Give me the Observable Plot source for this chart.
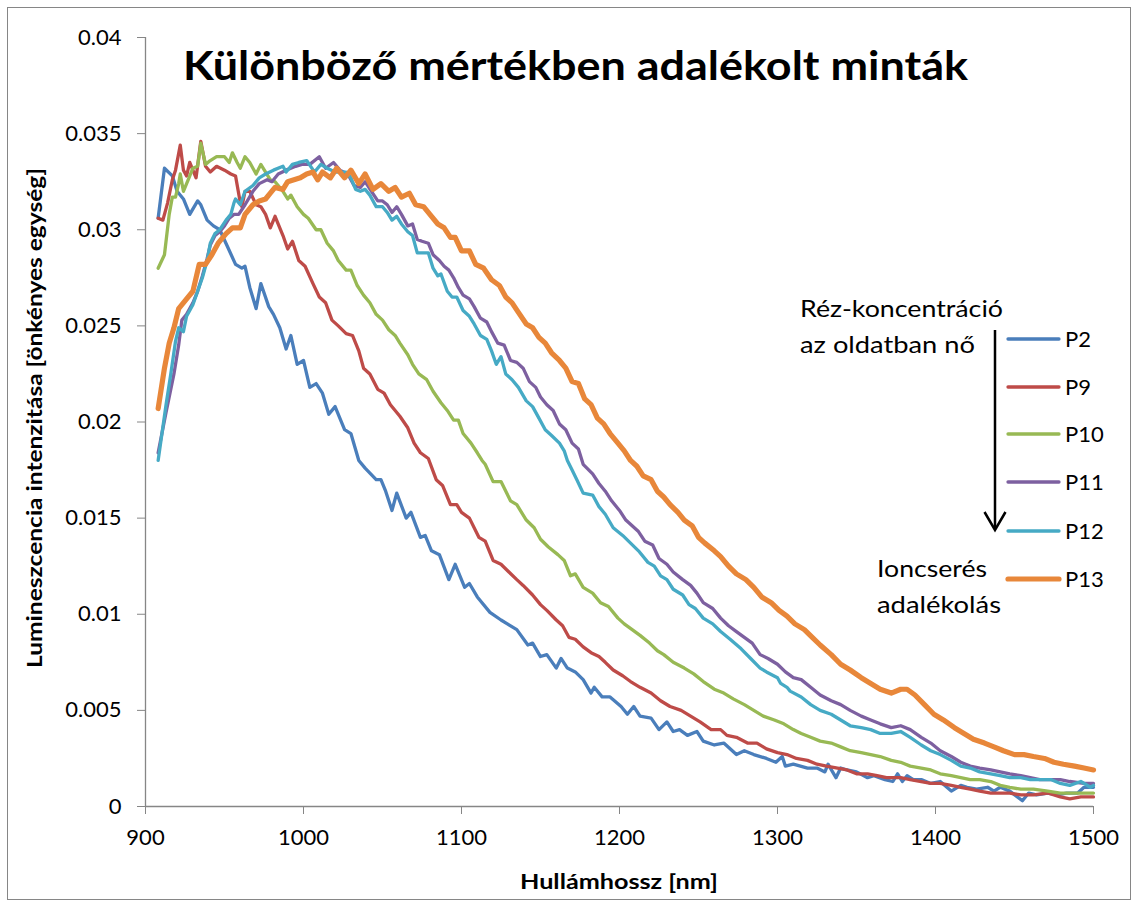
<!DOCTYPE html>
<html><head><meta charset="utf-8">
<script src="https://cdn.jsdelivr.net/npm/d3@7"></script>
<script src="https://cdn.jsdelivr.net/npm/@observablehq/plot@0.6"></script>
<style>
body{margin:0;background:#fff;}
#wrap{position:relative;width:1138px;height:906px;font-family:Lato,"Open Sans",sans-serif;background:#fff;}
#wrap > svg{position:absolute;left:0;top:0;}
</style></head><body><div id="wrap"></div>
<script>
const xTicks = [900, 1000, 1100, 1200, 1300, 1400, 1500];
const yTicks = [0, 0.005, 0.01, 0.015, 0.02, 0.025, 0.03, 0.035, 0.04];
const yTickLabels = ["0", "0.005", "0.01", "0.015", "0.02", "0.025", "0.03", "0.035", "0.04"];
const seriesNames = ["P2", "P9", "P10", "P11", "P12", "P13"];
const seriesColors = ["#4A7EBB", "#BE4B48", "#98B954", "#7D60A0", "#46AAC5", "#E8873A"];
const titleText = "Különböző mértékben adalékolt minták";
const xTitle = "Hullámhossz [nm]";
const yTitle = "Lumineszcencia intenzitása [önkényes egység]";
const noteTop = ["Réz-koncentráció", "az oldatban nő"];
const noteBottom = ["Ioncserés", "adalékolás"];

const p2 = [[908,0.0306],[912,0.0332],[917,0.0328],[920,0.0320],[924,0.0316],[928,0.0308],[933,0.0315],[935,0.0313],[939,0.0305],[943,0.0302],[947,0.0300],[952,0.0291],[957,0.0282],[961,0.0280],[963,0.0281],[966,0.0270],[970,0.0259],[973,0.0272],[978,0.0260],[981,0.0256],[985,0.0249],[989,0.0238],[992,0.0245],[996,0.0230],[1000,0.0232],[1004,0.0218],[1008,0.0220],[1012,0.0215],[1016,0.0204],[1020,0.0208],[1026,0.0196],[1030,0.0194],[1035,0.0180],[1039,0.0176],[1046,0.0170],[1049,0.0170],[1052,0.0164],[1056,0.0154],[1059,0.0163],[1065,0.0150],[1068,0.0153],[1074,0.0140],[1077,0.0141],[1081,0.0133],[1086,0.0131],[1092,0.0118],[1096,0.0126],[1102,0.0114],[1105,0.0116],[1110,0.0109],[1118,0.0101],[1125,0.0097],[1129,0.0095],[1135,0.0092],[1142,0.0084],[1145,0.0085],[1150,0.0078],[1154,0.0079],[1160,0.0072],[1163,0.0077],[1167,0.0072],[1172,0.0070],[1177,0.0066],[1182,0.0059],[1184,0.0062],[1189,0.0057],[1194,0.0057],[1201,0.0052],[1205,0.0048],[1209,0.0052],[1213,0.0047],[1220,0.0046],[1225,0.0040],[1230,0.0044],[1234,0.0039],[1238,0.0040],[1243,0.0037],[1249,0.0039],[1253,0.0034],[1260,0.0032],[1266,0.0033],[1274,0.0027],[1279,0.0029],[1285,0.0027],[1293,0.0025],[1299,0.0023],[1303,0.0026],[1305,0.0021],[1310,0.0022],[1319,0.0020],[1325,0.0020],[1330,0.0018],[1332,0.0022],[1337,0.0015],[1340,0.0020],[1344,0.0019],[1350,0.0018],[1357,0.0015],[1361,0.0016],[1368,0.0014],[1373,0.0013],[1376,0.0017],[1379,0.0013],[1382,0.0016],[1386,0.0014],[1391,0.0014],[1397,0.0012],[1403,0.0013],[1410,0.0008],[1416,0.0011],[1420,0.0010],[1426,0.0009],[1433,0.0010],[1437,0.0008],[1441,0.0010],[1447,0.0008],[1455,0.0003],[1459,0.0007],[1464,0.0006],[1471,0.0007],[1477,0.0006],[1483,0.0007],[1490,0.0007],[1494,0.0010],[1500,0.0010]];

const p9 = [[908,0.0306],[911,0.0305],[914,0.0314],[917,0.0326],[919,0.0331],[922,0.0344],[924,0.0331],[926,0.0328],[928,0.0335],[932,0.0327],[935,0.0346],[938,0.0333],[941,0.0330],[945,0.0333],[950,0.0331],[954,0.0329],[957,0.0328],[960,0.0314],[961,0.0312],[963,0.0320],[966,0.0320],[970,0.0313],[973,0.0312],[976,0.0308],[979,0.0301],[982,0.0307],[987,0.0297],[990,0.0290],[993,0.0294],[997,0.0284],[1001,0.0281],[1006,0.0272],[1010,0.0265],[1014,0.0262],[1018,0.0253],[1022,0.0250],[1027,0.0246],[1031,0.0245],[1035,0.0237],[1038,0.0228],[1042,0.0225],[1047,0.0217],[1051,0.0215],[1055,0.0209],[1061,0.0203],[1066,0.0197],[1070,0.0189],[1074,0.0184],[1079,0.0181],[1084,0.0170],[1088,0.0167],[1093,0.0157],[1097,0.0157],[1100,0.0153],[1105,0.0150],[1111,0.0140],[1115,0.0138],[1120,0.0128],[1125,0.0126],[1130,0.0122],[1135,0.0118],[1139,0.0115],[1145,0.0110],[1150,0.0105],[1154,0.0102],[1160,0.0097],[1164,0.0094],[1168,0.0088],[1172,0.0087],[1177,0.0083],[1182,0.0080],[1187,0.0078],[1191,0.0075],[1196,0.0071],[1202,0.0068],[1207,0.0065],[1213,0.0062],[1220,0.0059],[1226,0.0055],[1232,0.0052],[1239,0.0050],[1245,0.0047],[1251,0.0044],[1258,0.0040],[1264,0.0040],[1268,0.0037],[1274,0.0036],[1281,0.0033],[1287,0.0033],[1293,0.0030],[1300,0.0028],[1306,0.0027],[1312,0.0025],[1319,0.0024],[1325,0.0022],[1331,0.0021],[1338,0.0020],[1344,0.0019],[1350,0.0017],[1357,0.0017],[1363,0.0016],[1369,0.0015],[1378,0.0015],[1384,0.0014],[1391,0.0013],[1397,0.0012],[1403,0.0012],[1410,0.0011],[1416,0.0010],[1422,0.0009],[1428,0.0008],[1435,0.0007],[1441,0.0007],[1447,0.0007],[1454,0.0006],[1462,0.0006],[1471,0.0007],[1479,0.0005],[1485,0.0004],[1492,0.0005],[1500,0.0005]];

const p10 = [[908,0.0280],[912,0.0287],[915,0.0308],[917,0.0317],[919,0.0317],[921,0.0324],[922,0.0329],[924,0.0320],[927,0.0326],[930,0.0332],[933,0.0333],[935,0.0345],[938,0.0334],[941,0.0336],[945,0.0338],[950,0.0338],[953,0.0335],[955,0.0340],[958,0.0335],[960,0.0332],[963,0.0338],[966,0.0335],[970,0.0329],[973,0.0334],[976,0.0330],[979,0.0326],[982,0.0325],[987,0.0320],[990,0.0316],[992,0.0318],[996,0.0312],[1000,0.0308],[1003,0.0306],[1008,0.0300],[1011,0.0300],[1015,0.0293],[1019,0.0289],[1022,0.0284],[1027,0.0279],[1030,0.0279],[1034,0.0271],[1038,0.0266],[1042,0.0262],[1046,0.0256],[1050,0.0253],[1054,0.0248],[1058,0.0245],[1061,0.0241],[1066,0.0235],[1069,0.0230],[1073,0.0225],[1078,0.0222],[1082,0.0216],[1087,0.0210],[1091,0.0206],[1095,0.0201],[1098,0.0201],[1101,0.0194],[1106,0.0189],[1110,0.0184],[1113,0.0180],[1115,0.0178],[1120,0.0169],[1125,0.0169],[1131,0.0159],[1135,0.0157],[1141,0.0149],[1146,0.0145],[1150,0.0139],[1155,0.0135],[1161,0.0131],[1165,0.0128],[1169,0.0120],[1172,0.0121],[1177,0.0114],[1183,0.0111],[1188,0.0106],[1193,0.0104],[1199,0.0098],[1203,0.0095],[1208,0.0092],[1213,0.0089],[1219,0.0085],[1224,0.0081],[1228,0.0079],[1234,0.0075],[1241,0.0072],[1247,0.0069],[1253,0.0065],[1260,0.0061],[1266,0.0059],[1272,0.0056],[1279,0.0053],[1285,0.0050],[1291,0.0047],[1298,0.0045],[1304,0.0043],[1310,0.0040],[1315,0.0038],[1321,0.0036],[1327,0.0034],[1334,0.0033],[1340,0.0031],[1346,0.0029],[1353,0.0028],[1359,0.0027],[1365,0.0026],[1372,0.0024],[1378,0.0023],[1384,0.0021],[1391,0.0020],[1397,0.0019],[1403,0.0017],[1410,0.0016],[1416,0.0015],[1422,0.0014],[1428,0.0014],[1435,0.0013],[1441,0.0011],[1447,0.0010],[1454,0.0009],[1462,0.0009],[1471,0.0008],[1479,0.0007],[1488,0.0007],[1496,0.0007],[1500,0.0007]];

const p11 = [[908,0.0184],[913,0.0205],[918,0.0225],[921,0.0240],[923,0.0253],[926,0.0256],[930,0.0262],[933,0.0268],[936,0.0276],[939,0.0285],[941,0.0292],[944,0.0297],[947,0.0299],[950,0.0302],[953,0.0306],[956,0.0308],[959,0.0308],[963,0.0313],[968,0.0320],[972,0.0324],[977,0.0326],[980,0.0325],[984,0.0329],[989,0.0331],[995,0.0333],[999,0.0334],[1004,0.0334],[1010,0.0338],[1014,0.0332],[1019,0.0335],[1023,0.0331],[1028,0.0329],[1032,0.0323],[1036,0.0322],[1039,0.0325],[1043,0.0320],[1047,0.0315],[1050,0.0315],[1053,0.0313],[1056,0.0309],[1059,0.0312],[1062,0.0308],[1066,0.0302],[1069,0.0303],[1072,0.0295],[1075,0.0294],[1079,0.0293],[1082,0.0287],[1086,0.0284],[1089,0.0281],[1092,0.0279],[1095,0.0275],[1098,0.0270],[1101,0.0266],[1105,0.0264],[1108,0.0260],[1112,0.0254],[1116,0.0252],[1119,0.0247],[1123,0.0241],[1127,0.0240],[1131,0.0232],[1135,0.0231],[1139,0.0228],[1143,0.0221],[1147,0.0218],[1150,0.0213],[1154,0.0209],[1158,0.0206],[1162,0.0199],[1166,0.0196],[1170,0.0189],[1174,0.0186],[1177,0.0178],[1183,0.0173],[1187,0.0168],[1191,0.0164],[1195,0.0159],[1200,0.0154],[1204,0.0149],[1208,0.0146],[1212,0.0143],[1216,0.0138],[1221,0.0136],[1225,0.0129],[1230,0.0126],[1234,0.0122],[1240,0.0118],[1245,0.0115],[1249,0.0111],[1253,0.0106],[1259,0.0103],[1264,0.0098],[1269,0.0094],[1274,0.0091],[1279,0.0088],[1284,0.0085],[1289,0.0079],[1294,0.0077],[1300,0.0074],[1305,0.0070],[1310,0.0067],[1315,0.0066],[1321,0.0062],[1327,0.0058],[1334,0.0055],[1340,0.0053],[1346,0.0050],[1353,0.0047],[1359,0.0045],[1365,0.0043],[1372,0.0041],[1378,0.0042],[1384,0.0040],[1391,0.0036],[1397,0.0033],[1403,0.0029],[1410,0.0026],[1416,0.0023],[1422,0.0021],[1428,0.0020],[1435,0.0019],[1441,0.0018],[1447,0.0017],[1454,0.0016],[1460,0.0015],[1466,0.0014],[1473,0.0014],[1479,0.0014],[1485,0.0013],[1494,0.0012],[1500,0.0012]];

const p12 = [[908,0.0180],[913,0.0209],[916,0.0225],[919,0.0242],[921,0.0249],[924,0.0247],[926,0.0255],[930,0.0261],[933,0.0268],[936,0.0275],[939,0.0284],[941,0.0293],[944,0.0298],[947,0.0300],[951,0.0305],[954,0.0308],[956,0.0314],[957,0.0316],[960,0.0313],[963,0.0320],[968,0.0323],[972,0.0327],[976,0.0329],[981,0.0331],[987,0.0333],[989,0.0330],[993,0.0334],[997,0.0335],[1002,0.0336],[1007,0.0330],[1011,0.0334],[1015,0.0332],[1020,0.0330],[1027,0.0330],[1030,0.0327],[1033,0.0321],[1036,0.0320],[1039,0.0321],[1042,0.0318],[1046,0.0312],[1050,0.0312],[1053,0.0309],[1056,0.0305],[1059,0.0307],[1062,0.0303],[1066,0.0299],[1069,0.0297],[1072,0.0288],[1076,0.0288],[1079,0.0288],[1082,0.0280],[1085,0.0276],[1087,0.0277],[1091,0.0268],[1094,0.0265],[1097,0.0265],[1101,0.0258],[1105,0.0255],[1108,0.0251],[1112,0.0245],[1116,0.0243],[1119,0.0237],[1122,0.0230],[1125,0.0234],[1128,0.0225],[1132,0.0222],[1136,0.0218],[1141,0.0211],[1145,0.0208],[1149,0.0202],[1153,0.0196],[1157,0.0193],[1162,0.0189],[1165,0.0185],[1167,0.0180],[1170,0.0175],[1173,0.0170],[1177,0.0163],[1183,0.0162],[1187,0.0156],[1191,0.0152],[1196,0.0145],[1202,0.0141],[1207,0.0137],[1212,0.0133],[1218,0.0127],[1222,0.0125],[1226,0.0120],[1230,0.0118],[1234,0.0113],[1240,0.0110],[1244,0.0105],[1248,0.0103],[1253,0.0098],[1259,0.0095],[1264,0.0091],[1270,0.0087],[1277,0.0082],[1283,0.0077],[1289,0.0072],[1293,0.0070],[1300,0.0067],[1302,0.0064],[1306,0.0062],[1308,0.0060],[1315,0.0057],[1321,0.0053],[1327,0.0050],[1334,0.0048],[1340,0.0045],[1346,0.0042],[1353,0.0041],[1359,0.0040],[1365,0.0038],[1372,0.0038],[1378,0.0039],[1384,0.0036],[1391,0.0032],[1397,0.0029],[1403,0.0027],[1410,0.0024],[1416,0.0021],[1422,0.0020],[1428,0.0018],[1435,0.0017],[1441,0.0016],[1447,0.0015],[1454,0.0015],[1460,0.0014],[1466,0.0014],[1473,0.0014],[1479,0.0012],[1485,0.0011],[1492,0.0013],[1498,0.0010],[1500,0.0011]];

const p13 = [[908,0.0207],[912,0.0228],[915,0.0241],[918,0.0249],[921,0.0259],[925,0.0263],[930,0.0268],[934,0.0282],[938,0.0282],[942,0.0287],[946,0.0293],[951,0.0298],[955,0.0301],[960,0.0301],[963,0.0308],[968,0.0313],[972,0.0315],[976,0.0316],[979,0.0319],[982,0.0322],[987,0.0321],[990,0.0325],[994,0.0326],[998,0.0327],[1002,0.0329],[1006,0.0330],[1009,0.0326],[1012,0.0330],[1017,0.0327],[1021,0.0332],[1026,0.0327],[1030,0.0331],[1035,0.0324],[1039,0.0329],[1044,0.0321],[1049,0.0324],[1054,0.0320],[1058,0.0322],[1062,0.0317],[1067,0.0319],[1071,0.0313],[1076,0.0312],[1080,0.0308],[1085,0.0303],[1089,0.0301],[1093,0.0296],[1096,0.0296],[1100,0.0289],[1105,0.0289],[1109,0.0282],[1114,0.0280],[1119,0.0274],[1124,0.0271],[1128,0.0265],[1132,0.0262],[1136,0.0257],[1141,0.0251],[1145,0.0249],[1149,0.0244],[1153,0.0241],[1157,0.0236],[1162,0.0232],[1166,0.0228],[1170,0.0221],[1174,0.0220],[1178,0.0212],[1182,0.0209],[1186,0.0202],[1190,0.0199],[1194,0.0194],[1199,0.0189],[1203,0.0185],[1207,0.0180],[1211,0.0177],[1215,0.0172],[1220,0.0170],[1224,0.0164],[1228,0.0161],[1232,0.0157],[1237,0.0153],[1241,0.0149],[1246,0.0146],[1250,0.0140],[1254,0.0137],[1260,0.0133],[1264,0.0130],[1269,0.0125],[1274,0.0121],[1280,0.0118],[1285,0.0114],[1290,0.0109],[1296,0.0106],[1301,0.0102],[1306,0.0099],[1311,0.0095],[1317,0.0092],[1322,0.0088],[1327,0.0084],[1334,0.0079],[1340,0.0074],[1346,0.0071],[1353,0.0067],[1359,0.0064],[1365,0.0061],[1372,0.0059],[1378,0.0061],[1382,0.0061],[1387,0.0058],[1393,0.0053],[1399,0.0048],[1405,0.0045],[1412,0.0041],[1418,0.0038],[1424,0.0035],[1431,0.0033],[1437,0.0031],[1443,0.0029],[1450,0.0027],[1456,0.0027],[1462,0.0026],[1469,0.0025],[1475,0.0023],[1481,0.0022],[1488,0.0021],[1494,0.0020],[1500,0.0019]];

const seriesData = [p2, p9, p10, p11, p12, p13];
const seriesWidths = [3.3, 3.3, 3.3, 3.3, 3.3, 5.2];

const rows = seriesNames.flatMap((name, i) => seriesData[i].map(([nm, v]) => ({series: name, nm, v})));

const W = 1138, H = 906;
const axisGray = "#868686";

const chart = Plot.plot({
  width: W, height: H,
  marginLeft: 145, marginRight: 45, marginTop: 37, marginBottom: 100,
  style: {fontFamily: "Lato, 'Open Sans', sans-serif", fontSize: "22px", color: "black", background: "transparent", overflow: "visible"},
  x: {domain: [900, 1500]},
  y: {domain: [0, 0.04]},
  marks: [
    Plot.axisX({ticks: xTicks, tickSize: 8, tickPadding: 15, stroke: axisGray, fill: "black", label: null, tickFormat: d => String(d)}),
    Plot.axisY({ticks: yTicks, tickSize: 8, tickPadding: 16, stroke: axisGray, fill: "black", label: null, tickFormat: d => yTickLabels[yTicks.indexOf(d)]}),
    Plot.ruleX([900], {stroke: axisGray, strokeWidth: 1.3}),
    Plot.ruleY([0], {stroke: axisGray, strokeWidth: 1.3}),
    ...seriesNames.map((name, i) => Plot.line(rows.filter(r => r.series === name), {
      x: "nm", y: "v", stroke: seriesColors[i], strokeWidth: seriesWidths[i], strokeLinejoin: "round", strokeLinecap: "round"
    }))
  ]
});
document.getElementById("wrap").appendChild(chart);

// overlay: frame, title, axis titles, legend, annotations
const ns = "http://www.w3.org/2000/svg";
const ov = d3.select("#wrap").append("svg").attr("width", W).attr("height", H)
  .attr("xmlns", ns).style("font-family", "Lato, 'Open Sans', sans-serif");

ov.append("rect").attr("x", 7.5).attr("y", 7.5).attr("width", 1123).attr("height", 892)
  .attr("fill", "none").attr("stroke", axisGray).attr("stroke-width", 1);

ov.append("text").attr("x", 183).attr("y", 80).attr("font-size", 40).attr("font-weight", "bold")
  .attr("textLength", 785).attr("lengthAdjust", "spacingAndGlyphs").text(titleText);

ov.append("text").attr("x", 619).attr("y", 889).attr("text-anchor", "middle").attr("font-size", 21)
  .attr("font-weight", "bold").attr("textLength", 198).attr("lengthAdjust", "spacingAndGlyphs").text(xTitle);

ov.append("text").attr("transform", "translate(42,418) rotate(-90)").attr("text-anchor", "middle")
  .attr("font-size", 21).attr("font-weight", "bold").attr("textLength", 500)
  .attr("lengthAdjust", "spacingAndGlyphs").text(yTitle);

// legend
const legendY = [339, 387, 434, 482, 531, 579];
seriesNames.forEach((name, i) => {
  ov.append("line").attr("x1", 1008).attr("x2", 1059).attr("y1", legendY[i]).attr("y2", legendY[i])
    .attr("stroke", seriesColors[i]).attr("stroke-width", seriesWidths[i]).attr("stroke-linecap", "round");
  ov.append("text").attr("x", 1065).attr("y", legendY[i] + 8).attr("font-size", 22).text(name);
});

// annotations
const noteTopW = [203, 175];
noteTop.forEach((t, i) => ov.append("text").attr("x", 800).attr("y", 317 + i * 36).attr("font-size", 24)
  .attr("textLength", noteTopW[i]).attr("lengthAdjust", "spacingAndGlyphs").text(t));
const noteBotW = [110, 124];
noteBottom.forEach((t, i) => ov.append("text").attr("x", 877).attr("y", 577 + i * 36).attr("font-size", 24)
  .attr("textLength", noteBotW[i]).attr("lengthAdjust", "spacingAndGlyphs").text(t));

// arrow
ov.append("line").attr("x1", 995).attr("x2", 995).attr("y1", 330).attr("y2", 528)
  .attr("stroke", "black").attr("stroke-width", 2.5);
ov.append("polyline").attr("points", "984.5,512 995,530 1005.5,512").attr("fill", "none")
  .attr("stroke", "black").attr("stroke-width", 2.5);
</script></body></html>
